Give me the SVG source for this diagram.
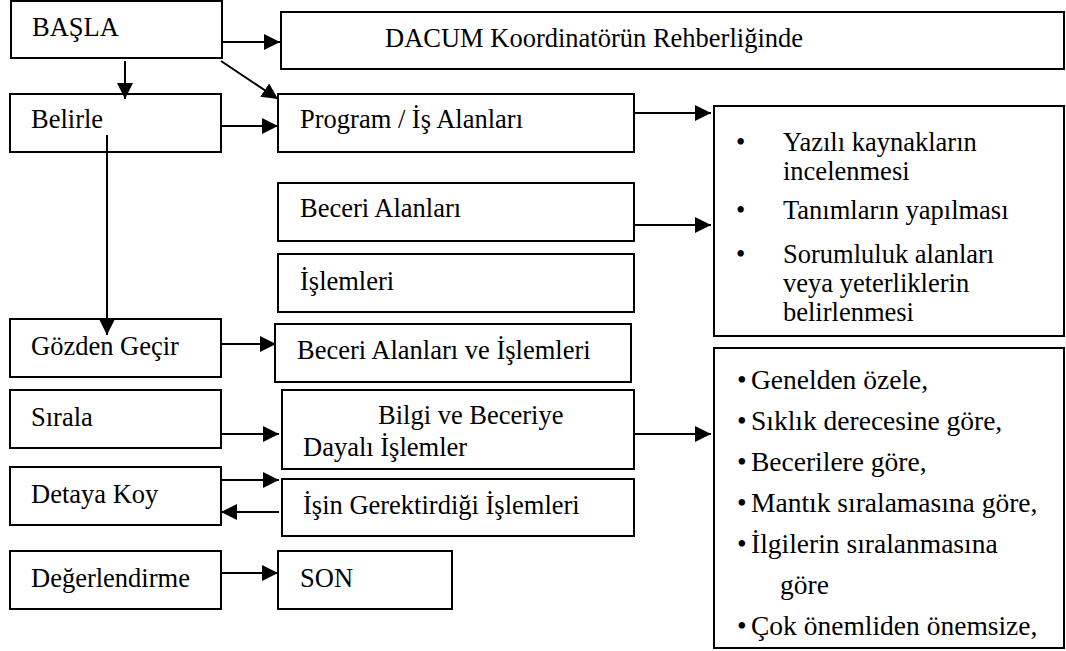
<svg xmlns="http://www.w3.org/2000/svg" width="1066" height="651" viewBox="0 0 1066 651">
<style>
  .box { fill: #ffffff; stroke: #000000; stroke-width: 2; }
  .t { font-family: "Liberation Serif", "Times New Roman", serif; font-size: 26.5px; fill: #000000; }
  .t2 { font-family: "Liberation Serif", "Times New Roman", serif; font-size: 27.5px; fill: #000000; }
  .c { stroke: #000000; stroke-width: 2; fill: none; marker-end: url(#arr); }
</style>
<defs>
  <marker id="arr" viewBox="0 0 16 16" refX="16" refY="8" markerWidth="16" markerHeight="16" markerUnits="userSpaceOnUse" orient="auto">
    <path d="M0,0 L16,8 L0,16 z" fill="#000000"/>
  </marker>
</defs>
<rect width="1066" height="651" fill="#ffffff"/>

<g id="basla"><rect class="box" x="11" y="1" width="211" height="57"/><text class="t" x="32" y="36">BAŞLA</text></g>
<g id="dacum"><rect class="box" x="281" y="12" width="783" height="57"/><text class="t" x="385" y="47">DACUM Koordinatörün Rehberliğinde</text></g>
<g id="belirle"><rect class="box" x="10" y="94" width="211" height="58"/><text class="t" x="31" y="128">Belirle</text></g>
<g id="program"><rect class="box" x="278" y="94" width="356" height="58"/><text class="t" x="300" y="128">Program / İş Alanları</text></g>
<g id="beceri"><rect class="box" x="278" y="183" width="356" height="58"/><text class="t" x="300" y="217">Beceri Alanları</text></g>
<g id="islemleri"><rect class="box" x="278" y="254" width="356" height="58"/><text class="t" x="300" y="290">İşlemleri</text></g>
<g id="gozden"><rect class="box" x="10" y="319" width="211" height="58"/><text class="t" x="31" y="355">Gözden Geçir</text></g>
<g id="beceri-islem"><rect class="box" x="275" y="324" width="356" height="58"/><text class="t" x="297" y="359">Beceri Alanları ve İşlemleri</text></g>
<g id="sirala"><rect class="box" x="10" y="390" width="211" height="58"/><text class="t" x="31" y="426">Sırala</text></g>
<g id="bilgi"><rect class="box" x="282" y="390" width="352" height="79"/><text class="t" x="378" y="424">Bilgi ve Beceriye</text><text class="t" x="303" y="456">Dayalı İşlemler</text></g>
<g id="detaya"><rect class="box" x="10" y="467" width="211" height="58"/><text class="t" x="31" y="503">Detaya Koy</text></g>
<g id="isin"><rect class="box" x="282" y="479" width="352" height="57"/><text class="t" x="303" y="514">İşin Gerektirdiği İşlemleri</text></g>
<g id="degerlendirme"><rect class="box" x="10" y="551" width="211" height="58"/><text class="t" x="31" y="587">Değerlendirme</text></g>
<g id="son"><rect class="box" x="278" y="551" width="174" height="58"/><text class="t" x="300" y="587">SON</text></g>

<g id="list1">
  <rect class="box" x="714" y="106" width="350" height="230"/>
  <text class="t" x="736" y="151">•</text><text class="t" x="783" y="151">Yazılı kaynakların</text>
  <text class="t" x="783" y="180">incelenmesi</text>
  <text class="t" x="736" y="219">•</text><text class="t" x="783" y="219">Tanımların yapılması</text>
  <text class="t" x="736" y="263">•</text><text class="t" x="783" y="263">Sorumluluk alanları</text>
  <text class="t" x="783" y="292">veya yeterliklerin</text>
  <text class="t" x="783" y="321">belirlenmesi</text>
</g>

<g id="list2">
  <rect class="box" x="714" y="348" width="350" height="300"/>
  <text class="t2" x="737" y="389">•</text><text class="t2" x="751" y="389">Genelden özele,</text>
  <text class="t2" x="737" y="430">•</text><text class="t2" x="751" y="430">Sıklık derecesine göre,</text>
  <text class="t2" x="737" y="471">•</text><text class="t2" x="751" y="471">Becerilere göre,</text>
  <text class="t2" x="737" y="512">•</text><text class="t2" x="751" y="512">Mantık sıralamasına göre,</text>
  <text class="t2" x="737" y="553">•</text><text class="t2" x="751" y="553">İlgilerin sıralanmasına</text>
  <text class="t2" x="780" y="594">göre</text>
  <text class="t2" x="737" y="635">•</text><text class="t2" x="751" y="635">Çok önemliden önemsize,</text>
</g>

<g id="connectors">
  <line class="c" x1="221" y1="42" x2="280" y2="42"/>
  <line class="c" x1="221" y1="61" x2="278" y2="99"/>
  <line class="c" x1="125" y1="61" x2="125" y2="99"/>
  <line class="c" x1="221" y1="126" x2="278" y2="126"/>
  <line class="c" x1="107" y1="135" x2="107" y2="335"/>
  <line class="c" x1="634" y1="113" x2="711" y2="113"/>
  <line class="c" x1="634" y1="225" x2="711" y2="225"/>
  <line class="c" x1="221" y1="344" x2="276" y2="344"/>
  <line class="c" x1="221" y1="434" x2="279" y2="434"/>
  <line class="c" x1="634" y1="434" x2="711" y2="434"/>
  <line class="c" x1="221" y1="480" x2="279" y2="480"/>
  <line class="c" x1="279" y1="512" x2="221" y2="512"/>
  <line class="c" x1="221" y1="573" x2="278" y2="573"/>
</g>
</svg>
